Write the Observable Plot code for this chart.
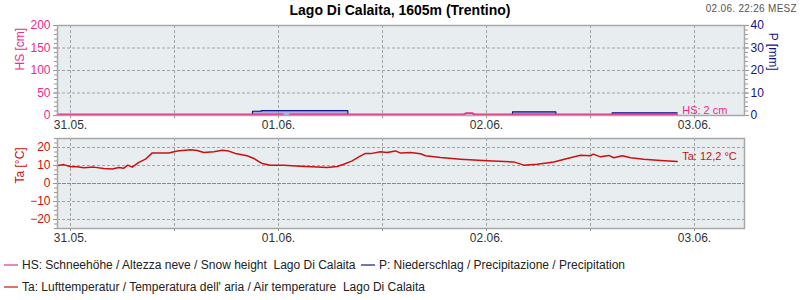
<!DOCTYPE html>
<html><head><meta charset="utf-8">
<script src="https://cdn.jsdelivr.net/npm/d3@7"></script>
<script src="https://cdn.jsdelivr.net/npm/@observablehq/plot@0.6"></script>
<style>
body{margin:0;background:#fff;font-family:"Liberation Sans",Arial,sans-serif;}
#wrap{position:relative;width:800px;height:300px;overflow:hidden;}
#title{position:absolute;left:0;width:800px;top:2px;text-align:center;font-weight:bold;font-size:14px;color:#000;}
#stamp{position:absolute;right:3px;top:3px;font-size:10px;color:#555;letter-spacing:0.3px}
#top,#bot{position:absolute;left:0;}
#top{top:0}
#bot{top:113px}
.leg{position:absolute;left:4px;font-family:"Liberation Sans Narrow","Liberation Sans",Arial,sans-serif;font-size:12px;color:#222;white-space:nowrap;line-height:14px}
.sw{display:inline-block;width:14px;height:2px;vertical-align:middle;margin-right:4px;position:relative;top:-1px}
</style></head>
<body>
<div id="wrap">
  <div id="top"></div>
  <div id="bot"></div>
  <div id="title">Lago Di Calaita, 1605m (Trentino)</div>
  <div id="stamp">02.06. 22:26 MESZ</div>
  <div class="leg" style="top:258px"><span class="sw" style="background:#f57fc0"></span>HS: Schneehöhe / Altezza neve / Snow height&nbsp; Lago Di Calaita <span class="sw" style="background:#7474c4;margin-left:2px"></span>P: Niederschlag / Precipitazione / Precipitation</div>
  <div class="leg" style="top:280px"><span class="sw" style="background:#e07272"></span>Ta: Lufttemperatur / Temperatura dell' aria / Air temperature&nbsp; Lago Di Calaita</div>
</div>
<script>
// ---- data ----
const year = "2025";
const taTimes = ["05-30 22:28","05-30 23:14","05-31 00:00","05-31 00:46","05-31 01:32","05-31 02:41","05-31 03:50","05-31 04:49","05-31 05:34","05-31 06:09","05-31 06:37","05-31 07:07","05-31 07:53","05-31 08:39","05-31 09:26","05-31 10:23","05-31 11:20","05-31 12:19","05-31 13:51","05-31 14:37","05-31 15:23","05-31 16:32","05-31 17:30","05-31 18:16","05-31 19:02","05-31 20:23","05-31 21:09","05-31 22:07","05-31 23:05","06-01 00:37","06-01 02:32","06-01 04:28","06-01 05:37","06-01 06:46","06-01 07:32","06-01 08:30","06-01 09:16","06-01 10:02","06-01 10:37","06-01 11:46","06-01 12:32","06-01 13:30","06-01 14:05","06-01 15:14","06-01 16:23","06-01 16:58","06-01 18:41","06-01 21:00","06-02 00:05","06-02 03:09","06-02 04:18","06-02 05:51","06-02 07:46","06-02 09:19","06-02 10:51","06-02 12:00","06-02 12:19","06-02 13:09","06-02 14:07","06-02 14:41","06-02 15:40","06-02 16:37","06-02 18:09","06-02 20:05","06-02 22:00"];
const taValues = [9.8,10.5,9.3,9.3,8.7,9.1,8.3,8.1,8.9,8.5,10.2,9.1,11.7,13.5,17,16.9,17,18,18.7,18.3,17.2,17.6,18.5,18,16.7,15.4,13.9,11.1,10.2,10.2,9.6,9.1,8.9,9.4,10.7,12.6,14.8,16.7,16.6,17.6,17.2,18.1,16.9,17.2,16.5,15.4,14.4,13.5,12.6,12,10.2,10.7,12,13.9,15.7,15.4,16.3,14.8,15.6,14.3,15.4,14.3,13.5,12.8,12.2];

const hsTimes = ["05-30 22:30","05-31 06:00","05-31 12:00","05-31 18:00","06-01 00:30","06-01 00:50","06-01 01:20","06-01 06:00","06-01 12:00","06-01 18:00","06-01 21:20","06-01 21:40","06-01 22:20","06-01 22:40","06-02 06:00","06-02 12:00","06-02 18:00","06-02 22:00"];
const hsValues = [2,2,2,2,2,null,2,2,2,2,2,5,5,2,2,2,2,2];

const pTimes = ["05-30 22:30","05-31 21:00","05-31 22:00","06-01 08:00","06-02 03:00","06-02 08:00","06-02 14:30","06-02 22:00"];
const pValues = [0,1.9,2.2,0,1.6,0,1.2,1.2];

const dayTicks = ["05-31 00:00","06-01 00:00","06-02 00:00","06-03 00:00"];
const halfDayTicks = ["05-31 00:00","05-31 12:00","06-01 00:00","06-01 12:00","06-02 00:00","06-02 12:00","06-03 00:00"];
const xDomain = ["05-30 22:30","06-03 05:46"];
const hsTicks = [0,50,100,150,200];
const pTicks = [0,10,20,30,40];
const taTicks = [-20,-10,0,10,20];

// ---- helpers ----
const t = s => new Date(`${year}-${s.slice(0,5)}T${s.slice(6)}:00Z`);
const ta = taTimes.map((s,i)=>({t:t(s), v:taValues[i]}));
const hs = hsTimes.map((s,i)=>({t:t(s), v:hsValues[i]}));
const pr = pTimes.map((s,i)=>({t:t(s), v:pValues[i]}));
const pScale = 200/40; // P mm onto HS axis
const fmt = d3.utcFormat("%d.%m.");
const FONT = "'Liberation Sans', Arial, sans-serif";
const PINK = "#ee2a8c", NAVY = "#12128a", RED = "#cc1010", GRID = "#a3a3a3";
const xScale = {type:"utc", domain: xDomain.map(t)};
const gridStyle = {stroke: GRID, strokeOpacity: 1, strokeDasharray: "3,2"};

const topPlot = Plot.plot({
  width: 800, height: 135, marginLeft: 57, marginRight: 56, marginTop: 25, marginBottom: 20,
  style: {fontFamily: FONT, fontSize: "12px", background: "transparent", overflow: "visible"},
  x: xScale,
  y: {domain: [0, 200]},
  marks: [
    Plot.frame({fill: "#e8edf0", stroke: null}),
    Plot.gridY(hsTicks.slice(1, -1), gridStyle),
    Plot.gridX(halfDayTicks.map(t), gridStyle),
    Plot.areaY(pr, {x: "t", y: d => d.v * pScale, curve: "step-after", fill: "#7c7cd0", fillOpacity: 0.55}),
    Plot.lineY(pr, {x: "t", y: d => d.v * pScale, curve: "step-after", stroke: NAVY, strokeWidth: 1.2}),
    Plot.lineY(hs, {x: "t", y: "v", stroke: PINK, strokeWidth: 2}),
    Plot.text([hs[hs.length-1]], {x: "t", y: "v", text: d => `HS: ${d.v} cm`, textAnchor: "start", dx: 5, dy: -4, fill: PINK, fontSize: 11}),
    Plot.frame({stroke: "#a8a8a8", strokeWidth: 1.5}),
    Plot.axisY(d3.range(0, 201, 10), {anchor: "left", tickSize: 3, stroke: "#999", text: null, label: null}),
    Plot.axisY(hsTicks, {anchor: "left", tickSize: 4, tickPadding: 3, stroke: "#999", fill: PINK, label: null, fontSize: 12}),
    Plot.axisY(d3.range(0, 201, 10), {anchor: "right", tickSize: 3, stroke: "#999", text: null, label: null}),
    Plot.axisY(pTicks.map(v => v * pScale), {anchor: "right", tickSize: 4, tickPadding: 2, stroke: "#999", fill: NAVY, tickFormat: d => d / pScale, label: null, fontSize: 12}),
    Plot.axisX(halfDayTicks.map(t), {anchor: "bottom", tickSize: 3, stroke: "#999", text: null, label: null}),
    Plot.axisX(dayTicks.map(t), {anchor: "bottom", tickSize: 3, tickPadding: 2, stroke: "#999", fill: "#333", tickFormat: fmt, label: null, fontSize: 12}),
    Plot.text(["HS [cm]"], {frameAnchor: "left", rotate: -90, dx: -37, fill: PINK, fontSize: 12}),
    Plot.text(["P [mm]"], {frameAnchor: "right", rotate: 90, dx: 28, fill: NAVY, fontSize: 12})
  ]
});
document.getElementById("top").append(topPlot);

const botPlot = Plot.plot({
  width: 800, height: 135, marginLeft: 57, marginRight: 56, marginTop: 25, marginBottom: 20,
  style: {fontFamily: FONT, fontSize: "12px", background: "transparent", overflow: "visible"},
  x: xScale,
  y: {domain: [-25, 25]},
  marks: [
    Plot.frame({fill: "#e8edf0", stroke: null}),
    Plot.gridY(taTicks.filter(v => v !== 0), gridStyle),
    Plot.gridX(halfDayTicks.map(t), gridStyle),
    Plot.ruleY([0], {stroke: "#8a8a8a", strokeDasharray: "4,1"}),
    Plot.lineY(ta, {x: "t", y: "v", stroke: RED, strokeWidth: 1.5}),
    Plot.text([ta[ta.length-1]], {x: "t", y: "v", text: d => `Ta: ${String(d.v).replace(".", ",")} °C`, textAnchor: "start", dx: 5, dy: -5, fill: RED, fontSize: 11}),
    Plot.frame({stroke: "#a8a8a8", strokeWidth: 1.5}),
    Plot.axisY(d3.range(-25, 26, 2.5), {anchor: "left", tickSize: 3, stroke: "#999", text: null, label: null}),
    Plot.axisY(taTicks, {anchor: "left", tickSize: 4, tickPadding: 3, stroke: "#999", fill: RED, label: null, fontSize: 12}),
    Plot.axisX(halfDayTicks.map(t), {anchor: "bottom", tickSize: 3, stroke: "#999", text: null, label: null}),
    Plot.axisX(dayTicks.map(t), {anchor: "bottom", tickSize: 3, tickPadding: 2, stroke: "#999", fill: "#333", tickFormat: fmt, label: null, fontSize: 12}),
    Plot.text(["Ta [°C]"], {frameAnchor: "left", rotate: -90, dx: -37, fill: RED, fontSize: 12})
  ]
});
document.getElementById("bot").append(botPlot);
</script>
</body></html>
